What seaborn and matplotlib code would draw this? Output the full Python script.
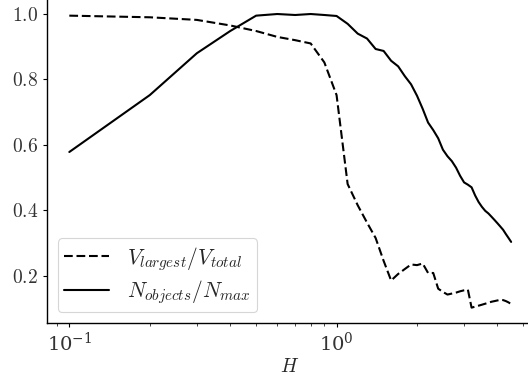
import matplotlib
matplotlib.use("Agg")
import matplotlib.pyplot as plt
import seaborn as sns
import pandas as pd
from matplotlib.ticker import FuncFormatter

H = [0.1, 0.2, 0.3, 0.4, 0.5, 0.6, 0.7, 0.8, 0.9, 1.0,
     1.1, 1.2, 1.3, 1.4, 1.5, 1.6, 1.7, 1.8, 1.9, 2.0,
     2.1, 2.2, 2.3, 2.4, 2.5, 2.6, 2.7, 2.8, 2.9, 3.0,
     3.1, 3.2, 3.3, 3.4, 3.5, 3.6, 3.7, 3.8, 3.9, 4.0,
     4.1, 4.2, 4.3, 4.4, 4.5]

v_largest = [0.995, 0.990, 0.982, 0.965, 0.948, 0.930, 0.920, 0.910, 0.852, 0.752,
             0.480, 0.415, 0.362, 0.315, 0.245, 0.185, 0.205, 0.220, 0.234, 0.232,
             0.237, 0.208, 0.208, 0.160, 0.150, 0.142, 0.145, 0.148, 0.152, 0.155,
             0.157, 0.102, 0.105, 0.108, 0.111, 0.114, 0.117, 0.120, 0.122, 0.124,
             0.126, 0.125, 0.122, 0.118, 0.113]

n_objects = [0.578, 0.752, 0.880, 0.948, 0.995, 1.000, 0.997, 1.000, 0.997, 0.994,
             0.970, 0.940, 0.925, 0.893, 0.887, 0.857, 0.840, 0.810, 0.785, 0.750,
             0.710, 0.668, 0.645, 0.620, 0.585, 0.565, 0.550, 0.530, 0.505, 0.485,
             0.478, 0.470, 0.445, 0.425, 0.410, 0.398, 0.390, 0.380, 0.370, 0.360,
             0.350, 0.340, 0.327, 0.315, 0.303]

labels = [r"$V_{largest}/V_{total}$", r"$N_{objects}/N_{max}$"]

sns.set_theme(style="ticks")
plt.rcParams["font.family"] = ["DejaVu Serif"]
plt.rcParams["mathtext.fontset"] = "cm"
plt.rcParams["font.size"] = 14

df = pd.DataFrame({"H": H, "vl": v_largest, "no": n_objects})

W, Hpx = 528, 385
fig = plt.figure(figsize=(W / 100, Hpx / 100), dpi=100)
ax = fig.add_axes([47 / W, (Hpx - 323) / Hpx, (533 - 47) / W, 323.7 / Hpx])

sns.lineplot(data=df, x="H", y="vl", ax=ax, color="black", linewidth=1.5,
             linestyle=(0, (4.2, 1.8)), label=labels[0])
sns.lineplot(data=df, x="H", y="no", ax=ax, color="black", linewidth=1.5,
             linestyle="-", label=labels[1])

ax.set_xscale("log")
ax.set_xlim(10 ** -1.0835, 10 ** 0.735)
ax.set_ylim(0.055, 1.045)
ax.set_yticks([0.2, 0.4, 0.6, 0.8, 1.0])
ax.yaxis.set_major_formatter(FuncFormatter(lambda v, p: f"${v:.1f}$"))
ax.tick_params(axis="both", which="major", length=3, width=0.8, labelsize=14,
               colors="black", labelcolor="#333333")
ax.tick_params(axis="both", which="minor", length=2, width=0.6)
for s in ["top", "right"]:
    ax.spines[s].set_visible(False)
for s in ["left", "bottom"]:
    ax.spines[s].set_color("black")
    ax.spines[s].set_linewidth(1.0)

ax.set_xlabel(r"$H$", fontsize=14, labelpad=2)
ax.set_ylabel("")

leg = ax.legend(loc="lower left", fontsize=15.5, frameon=True, fancybox=True,
                handlelength=2.1, handletextpad=0.8, borderaxespad=0.5,
                labelspacing=0.25, borderpad=0.3)
leg.get_frame().set_edgecolor("#cccccc")
leg.get_frame().set_linewidth(0.8)

fig.savefig("out.png", dpi=100)
